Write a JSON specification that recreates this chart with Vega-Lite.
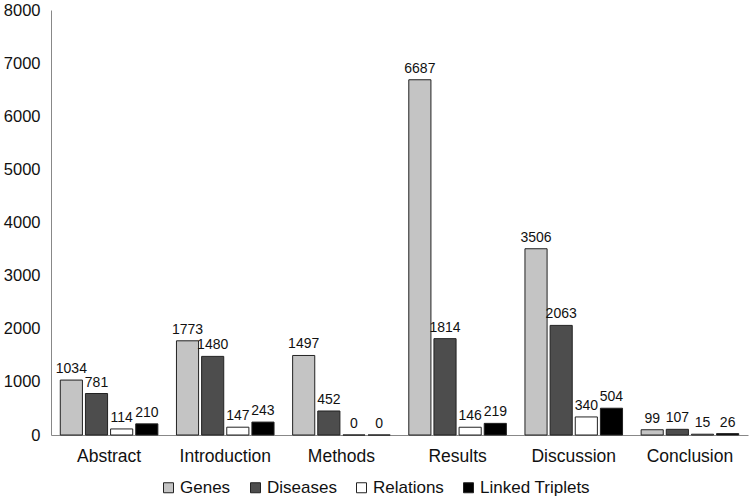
{
  "$schema": "https://vega.github.io/schema/vega-lite/v6.json",
  "width": 697,
  "height": 425,
  "autosize": {"type": "none"},
  "padding": {"left": 51, "top": 10, "right": 2, "bottom": 63},
  "config": {
    "view": {"stroke": null},
    "font": "Liberation Sans",
    "text": {"font": "Liberation Sans"}
  },
  "data": {
    "values": [
      {"section": "Abstract", "series": "Genes", "count": 1034},
      {"section": "Abstract", "series": "Diseases", "count": 781},
      {"section": "Abstract", "series": "Relations", "count": 114},
      {"section": "Abstract", "series": "Linked Triplets", "count": 210},
      {"section": "Introduction", "series": "Genes", "count": 1773},
      {"section": "Introduction", "series": "Diseases", "count": 1480},
      {"section": "Introduction", "series": "Relations", "count": 147},
      {"section": "Introduction", "series": "Linked Triplets", "count": 243},
      {"section": "Methods", "series": "Genes", "count": 1497},
      {"section": "Methods", "series": "Diseases", "count": 452},
      {"section": "Methods", "series": "Relations", "count": 0},
      {"section": "Methods", "series": "Linked Triplets", "count": 0},
      {"section": "Results", "series": "Genes", "count": 6687},
      {"section": "Results", "series": "Diseases", "count": 1814},
      {"section": "Results", "series": "Relations", "count": 146},
      {"section": "Results", "series": "Linked Triplets", "count": 219},
      {"section": "Discussion", "series": "Genes", "count": 3506},
      {"section": "Discussion", "series": "Diseases", "count": 2063},
      {"section": "Discussion", "series": "Relations", "count": 340},
      {"section": "Discussion", "series": "Linked Triplets", "count": 504},
      {"section": "Conclusion", "series": "Genes", "count": 99},
      {"section": "Conclusion", "series": "Diseases", "count": 107},
      {"section": "Conclusion", "series": "Relations", "count": 15},
      {"section": "Conclusion", "series": "Linked Triplets", "count": 26}
    ]
  },
  "encoding": {
    "x": {
      "field": "section",
      "type": "nominal",
      "sort": ["Abstract", "Introduction", "Methods", "Results", "Discussion", "Conclusion"],
      "scale": {"paddingInner": 0.16, "paddingOuter": 0.08},
      "title": null,
      "axis": {
        "labelAngle": 0,
        "labelFontSize": 17.5,
        "labelColor": "#111",
        "labelPadding": 12,
        "ticks": false,
        "domainColor": "#888",
        "domainWidth": 1
      }
    },
    "xOffset": {
      "field": "series",
      "sort": ["Genes", "Diseases", "Relations", "Linked Triplets"],
      "scale": {"paddingInner": 0.12}
    },
    "y": {
      "field": "count",
      "type": "quantitative",
      "scale": {"domain": [0, 8000]},
      "title": null,
      "axis": {
        "values": [0, 1000, 2000, 3000, 4000, 5000, 6000, 7000, 8000],
        "format": "d",
        "grid": false,
        "ticks": false,
        "labelFontSize": 16.5,
        "labelColor": "#111",
        "labelPadding": 11,
        "domainColor": "#888",
        "domainWidth": 1
      }
    }
  },
  "layer": [
    {
      "mark": {"type": "bar", "stroke": "#222", "strokeWidth": 1},
      "encoding": {
        "fill": {
          "field": "series",
          "type": "nominal",
          "sort": ["Genes", "Diseases", "Relations", "Linked Triplets"],
          "scale": {
            "domain": ["Genes", "Diseases", "Relations", "Linked Triplets"],
            "range": ["#c4c4c4", "#4d4d4d", "#ffffff", "#000000"]
          },
          "legend": {
            "title": null,
            "orient": "none",
            "legendX": 109,
            "legendY": 469,
            "direction": "horizontal",
            "symbolType": "square",
            "symbolSize": 100,
            "symbolStrokeColor": "#222",
            "symbolStrokeWidth": 1,
            "labelFontSize": 17,
            "labelColor": "#111",
            "labelOffset": 3,
            "columnPadding": 16
          }
        }
      }
    },
    {
      "mark": {"type": "text", "baseline": "bottom", "dy": -4, "fontSize": 14, "color": "#111"},
      "encoding": {
        "text": {"field": "count", "type": "quantitative"}
      }
    }
  ]
}
